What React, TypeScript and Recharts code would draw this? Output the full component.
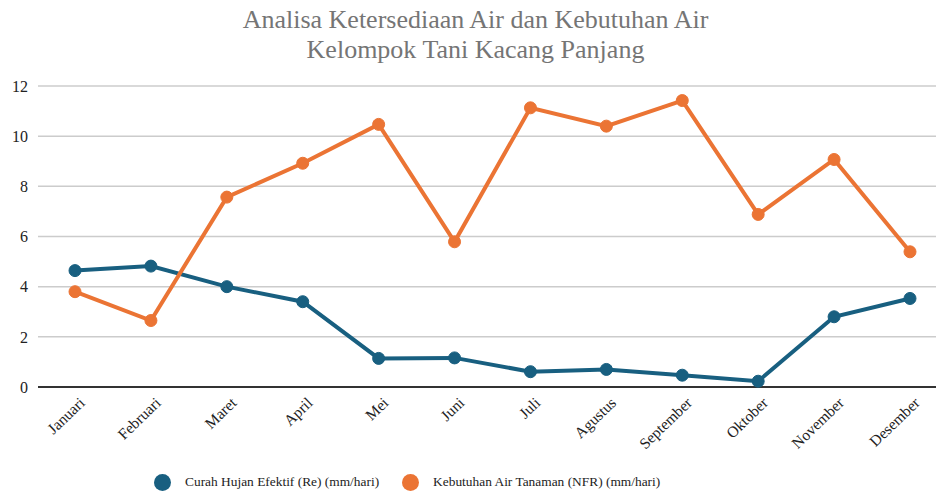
import { LineChart, Line, XAxis, YAxis, CartesianGrid } from 'recharts';

const months = ['Januari', 'Februari', 'Maret', 'April', 'Mei', 'Juni', 'Juli', 'Agustus', 'September', 'Oktober', 'November', 'Desember'];
const curahHujan = [4.64, 4.82, 4.0, 3.4, 1.14, 1.16, 0.61, 0.7, 0.47, 0.23, 2.8, 3.53];
const kebutuhanAir = [3.8, 2.65, 7.57, 8.92, 10.47, 5.79, 11.13, 10.4, 11.42, 6.88, 9.07, 5.39];
const yTicks = [0, 2, 4, 6, 8, 10, 12];

const BLUE = '#185f80';
const ORANGE = '#eb7434';
const FONT = '"Liberation Serif", "DejaVu Serif", serif';

const data = months.map((month, i) => ({
  month,
  re: curahHujan[i],
  nfr: kebutuhanAir[i],
}));

function MonthTick({ x, y, payload }: any) {
  const tx = x + 7;
  const ty = y + 5;
  return (
    <text
      x={tx}
      y={ty}
      transform={`rotate(-44, ${tx}, ${ty})`}
      textAnchor="end"
      dominantBaseline="central"
      fontFamily={FONT}
      fontSize={15.5}
      fill="#222"
    >
      {payload.value}
    </text>
  );
}

function LegendRow() {
  const items = [
    { label: 'Curah Hujan Efektif (Re) (mm/hari)', color: BLUE },
    { label: 'Kebutuhan Air Tanaman (NFR) (mm/hari)', color: ORANGE },
  ];
  return (
    <div
      style={{
        position: 'absolute',
        left: 154,
        top: 472,
        display: 'flex',
        gap: 23,
        fontFamily: FONT,
        fontSize: 13.4,
        lineHeight: '20px',
        color: '#222',
      }}
    >
      {items.map((it) => (
        <div key={it.label} style={{ display: 'flex', alignItems: 'center', gap: 14 }}>
          <span style={{ width: 17, height: 17, borderRadius: '50%', background: it.color, display: 'inline-block' }} />
          <span>{it.label}</span>
        </div>
      ))}
    </div>
  );
}

export default function App() {
  return (
    <div style={{ position: 'absolute', left: 0, top: 0, width: 936, height: 493, background: '#fff' }}>
      <div
        style={{
          position: 'absolute',
          top: 5,
          left: 0,
          width: 951,
          textAlign: 'center',
          fontFamily: FONT,
          fontSize: 26,
          lineHeight: '30px',
          color: '#757575',
        }}
      >
        Analisa Ketersediaan Air dan Kebutuhan Air
        <br />
        Kelompok Tani Kacang Panjang
      </div>
      <LineChart width={936} height={493} data={data} margin={{ top: 86, right: 0, left: 0, bottom: 36 }}>
        <CartesianGrid vertical={false} stroke="#cccccc" strokeWidth={1.5} />
        <XAxis
          dataKey="month"
          padding={{ left: 37, right: 26 }}
          tickLine={false}
          axisLine={{ stroke: '#333', strokeWidth: 2 }}
          tick={<MonthTick />}
          interval={0}
          height={70}
        />
        <YAxis
          domain={[0, 12]}
          ticks={yTicks}
          width={38}
          axisLine={false}
          tickLine={false}
          tick={{ fontFamily: FONT, fontSize: 16, fill: '#222' }}
          tickMargin={4}
        />
        <Line
          dataKey="re"
          name="Curah Hujan Efektif (Re) (mm/hari)"
          stroke={BLUE}
          strokeWidth={4}
          dot={{ r: 6, fill: BLUE, stroke: BLUE, strokeWidth: 1 }}
          isAnimationActive={false}
        />
        <Line
          dataKey="nfr"
          name="Kebutuhan Air Tanaman (NFR) (mm/hari)"
          stroke={ORANGE}
          strokeWidth={4}
          dot={{ r: 6, fill: ORANGE, stroke: ORANGE, strokeWidth: 1 }}
          isAnimationActive={false}
        />
      </LineChart>
      <LegendRow />
    </div>
  );
}
